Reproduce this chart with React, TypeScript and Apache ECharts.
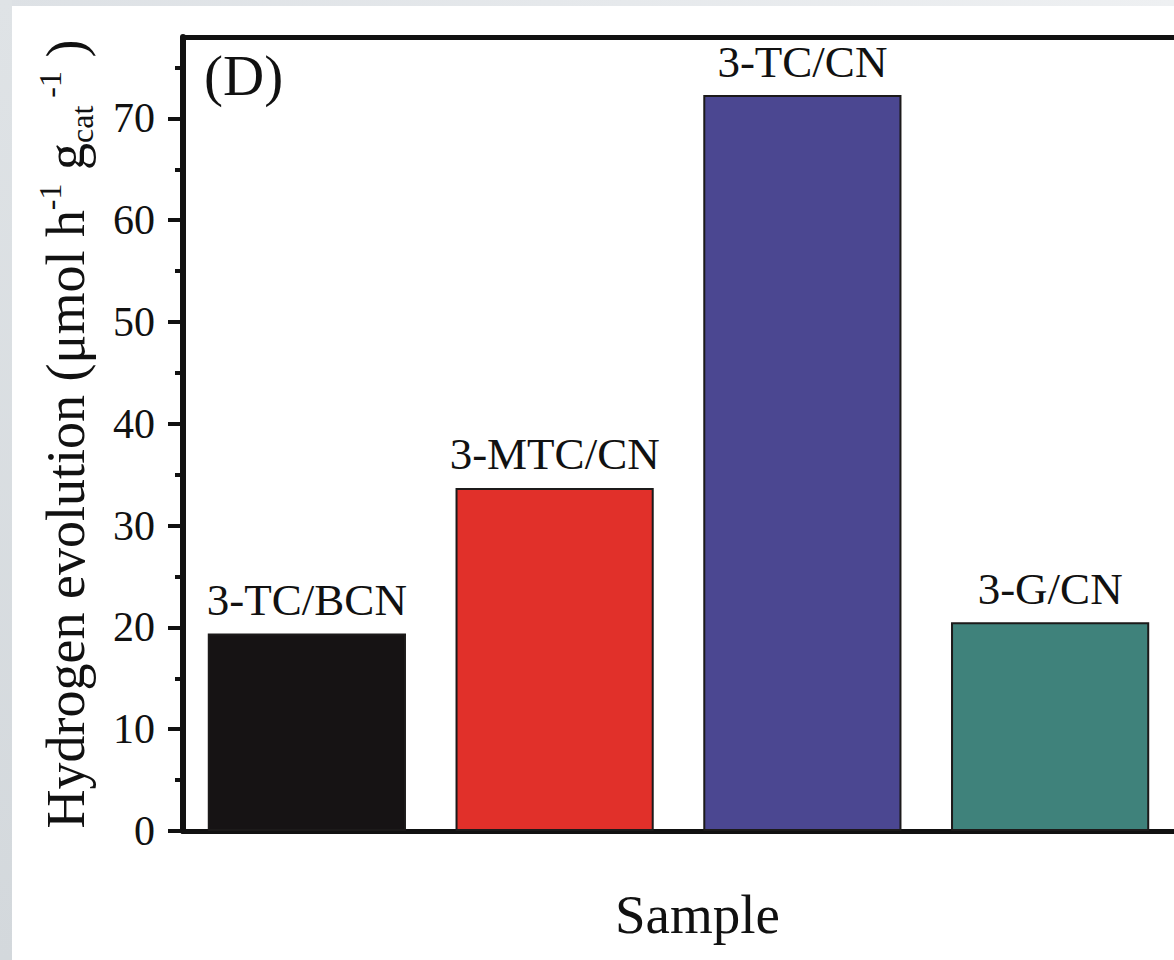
import React, { useEffect, useRef } from "react";
import * as echarts from "echarts";

const categories = ["3-TC/BCN", "3-MTC/CN", "3-TC/CN", "3-G/CN"];
const values = [19.4, 33.7, 72.3, 20.5];
const barColors = ["#161314", "#e1302a", "#4b4791", "#3f827b"];
const majorTicks = [0, 10, 20, 30, 40, 50, 60, 70];
const minorTicks = [5, 15, 25, 35, 45, 55, 65, 75];
const yMax = 78;

const FONT = '"Liberation Serif", "Times New Roman", serif';

export default function App() {
  const ref = useRef<HTMLDivElement>(null);
  useEffect(() => {
    if (!ref.current) return;
    const chart = echarts.init(ref.current, undefined, { renderer: "svg" });
    chart.setOption({
      animation: false,
      backgroundColor: "#ffffff",
      textStyle: { fontFamily: FONT, color: "#111" },
      graphic: {
        elements: [
          {
            type: "rect",
            shape: { x: 0, y: 0, width: 1174, height: 6 },
            style: {
              fill: new echarts.graphic.LinearGradient(0, 0, 1, 0, [
                { offset: 0, color: "#dde1e5" },
                { offset: 1, color: "#eef0f2" },
              ]),
            },
            silent: true,
          },
          {
            type: "rect",
            shape: { x: 0, y: 0, width: 12, height: 960 },
            style: {
              fill: new echarts.graphic.LinearGradient(0, 0, 0, 1, [
                { offset: 0, color: "#dfe3e6" },
                { offset: 1, color: "#d3d8dc" },
              ]),
            },
            silent: true,
          },
          {
            type: "text",
            x: 204,
            y: 47,
            style: {
              text: "(D)",
              fontSize: 57,
              fontFamily: FONT,
              fill: "#111",
            },
            silent: true,
          },
        ],
      },
      grid: { left: 183, top: 37, width: 998, height: 794 },
      xAxis: [
        {
          type: "category",
          data: categories,
          position: "bottom",
          axisLine: { show: true, lineStyle: { color: "#111", width: 5 } },
          axisTick: { show: false },
          axisLabel: { show: false },
          splitLine: { show: false },
          name: "Sample",
          nameLocation: "middle",
          nameGap: 56,
          nameTextStyle: {
            fontSize: 55,
            fontFamily: FONT,
            color: "#111",
            padding: [0, 0, 0, 38],
          },
        },
        {
          type: "category",
          data: categories,
          position: "top",
          axisLine: {
            show: true,
            onZero: false,
            lineStyle: { color: "#111", width: 5 },
          },
          axisTick: { show: false },
          axisLabel: { show: false },
          splitLine: { show: false },
        },
      ],
      yAxis: [
        {
          type: "value",
          min: 0,
          max: yMax,
          position: "left",
          axisLine: { show: true, lineStyle: { color: "#111", width: 6 } },
          axisTick: {
            show: true,
            inside: false,
            length: 15,
            lineStyle: { color: "#111", width: 4 },
            customValues: majorTicks,
          },
          axisLabel: {
            show: true,
            margin: 28,
            fontSize: 42,
            fontFamily: FONT,
            color: "#111",
            customValues: majorTicks,
          },
          splitLine: { show: false },
          name:
            "{m|Hydrogen evolution (μmol h}{sup|-1}{m| g}{sub|cat}{sup| -1}{m| )}",
          nameLocation: "middle",
          nameRotate: 90,
          nameGap: 85,
          nameTextStyle: {
            fontFamily: FONT,
            color: "#111",
            rich: {
              m: { fontSize: 54, fontFamily: FONT, color: "#111", lineHeight: 64 },
              sup: {
                fontSize: 32,
                fontFamily: FONT,
                color: "#111",
                lineHeight: 32,
                verticalAlign: "top",
              },
              sub: {
                fontSize: 32,
                fontFamily: FONT,
                color: "#111",
                lineHeight: 32,
                verticalAlign: "bottom",
              },
            },
          },
        },
        {
          type: "value",
          min: 0,
          max: yMax,
          position: "left",
          axisLine: { show: false },
          axisTick: {
            show: true,
            inside: false,
            length: 8,
            lineStyle: { color: "#111", width: 4 },
            customValues: minorTicks,
          },
          axisLabel: { show: false },
          splitLine: { show: false },
        },
      ],
      series: [
        {
          type: "bar",
          xAxisIndex: 0,
          yAxisIndex: 0,
          barCategoryGap: "20%",
          data: values.map((v, i) => ({
            value: v,
            itemStyle: { color: barColors[i] },
          })),
          itemStyle: { borderColor: "#1c1a1a", borderWidth: 2 },
          label: {
            show: true,
            position: "top",
            distance: 11,
            formatter: "{b}",
            fontSize: 45,
            fontFamily: FONT,
            color: "#111",
          },
        },
      ],
    });
    return () => chart.dispose();
  }, []);
  return (
    <div
      ref={ref}
      style={{ position: "absolute", left: 0, top: 0, width: 1174, height: 960 }}
    />
  );
}
